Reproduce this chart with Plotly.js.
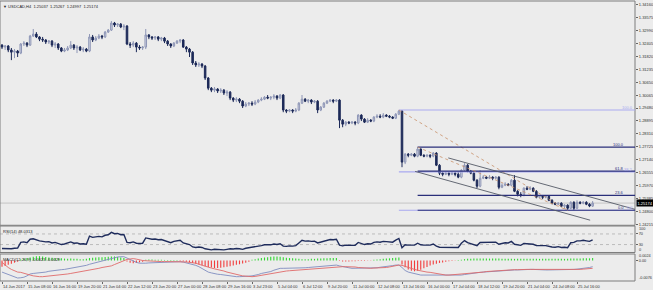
<!DOCTYPE html>
<html><head><meta charset="utf-8">
<script src="https://cdn.plot.ly/plotly-3.0.1.min.js"></script>
<style>html,body{margin:0;padding:0;background:#ececec;overflow:hidden}#chart{width:653px;height:290px}</style>
</head><body><div id="chart"></div>
<script>
const headerText = "USDCAD,H4  1.25037  1.25267  1.24997  1.25174";
const rsiLabel = "RSI(14) 48.0313";
const macdLabel = "MACD(12,26,9) -0.0023 -0.0029";
const timeLabels = ["14 Jun 2017","15 Jun 08:00","16 Jun 16:00","19 Jun 20:00","21 Jun 04:00","22 Jun 12:00","23 Jun 20:00","27 Jun 00:00","28 Jun 08:00","29 Jun 16:00","3 Jul 23:00","5 Jul 04:00","6 Jul 12:00","9 Jul 20:00","11 Jul 00:00","12 Jul 08:00","13 Jul 16:00","16 Jul 00:00","17 Jul 04:00","18 Jul 12:00","19 Jul 20:00","21 Jul 04:00","24 Jul 08:00","25 Jul 16:00"];
const labelBars = [0,8,16,24,32,40,48,56,64,72,80,88,96,104,112,120,128,136,144,152,160,168,176,184];
const priceTicks = [1.34160,1.33575,1.32990,1.32405,1.31820,1.31235,1.30650,1.30065,1.29480,1.28895,1.28310,1.27725,1.27140,1.26555,1.25970,1.25385,1.24800,1.24215];
const priceTickText = ["1.34160","1.33575","1.32990","1.32405","1.31820","1.31235","1.30650","1.30065","1.29480","1.28895","1.28310","1.27725","1.27140","1.26555","1.25970","1.25385","1.24800","1.24215"];

const openP = [1.3233,1.3224,1.3229,1.3211,1.3201,1.3206,1.3197,1.3238,1.3242,1.3233,
1.3274,1.3283,1.3270,1.3260,1.3256,1.3247,1.3251,1.3233,1.3238,1.3220,
1.3206,1.3211,1.3220,1.3233,1.3220,1.3224,1.3211,1.3215,1.3206,1.3270,
1.3256,1.3265,1.3274,1.3270,1.3292,1.3301,1.3333,1.3324,1.3328,1.3315,
1.3319,1.3238,1.3233,1.3242,1.3224,1.3220,1.3224,1.3279,1.3270,1.3265,
1.3270,1.3260,1.3265,1.3251,1.3238,1.3229,1.3242,1.3251,1.3256,1.3224,
1.3215,1.3201,1.3152,1.3143,1.3147,1.3138,1.3084,1.3038,1.3029,1.3034,
1.3025,1.3029,1.3016,1.3020,1.2993,1.2984,1.2988,1.2979,1.2957,1.2966,
1.2970,1.2966,1.2975,1.2984,1.2988,1.2997,1.2993,1.2997,1.3002,1.2993,
1.3007,1.2939,1.2934,1.2939,1.2934,1.2939,1.2970,1.2988,1.2979,1.2984,
1.2975,1.2979,1.2939,1.2952,1.2970,1.2979,1.2984,1.2979,1.2984,1.2893,
1.2875,1.2884,1.2880,1.2884,1.2880,1.2916,1.2898,1.2884,1.2893,1.2889,
1.2907,1.2911,1.2907,1.2916,1.2911,1.2907,1.2902,1.2920,1.2934,1.2703,
1.2739,1.2734,1.2739,1.2730,1.2762,1.2734,1.2730,1.2734,1.2730,1.2744,
1.2689,1.2653,1.2648,1.2653,1.2648,1.2653,1.2648,1.2635,1.2666,1.2689,
1.2662,1.2653,1.2621,1.2594,1.2630,1.2635,1.2630,1.2635,1.2630,1.2635,
1.2589,1.2598,1.2603,1.2598,1.2621,1.2571,1.2557,1.2553,1.2585,1.2580,
1.2585,1.2571,1.2544,1.2548,1.2544,1.2548,1.2530,1.2517,1.2512,1.2517,
1.2503,1.2508,1.2494,1.2521,1.2494,1.2521,1.2517,1.2521,1.2512,1.25037];
const highP = [1.3238,1.3233,1.3233,1.3220,1.3215,1.3211,1.3242,1.3251,1.3247,1.3279,
1.3306,1.3292,1.3274,1.3270,1.3260,1.3256,1.3256,1.3247,1.3242,1.3224,
1.3220,1.3229,1.3251,1.3238,1.3233,1.3229,1.3224,1.3220,1.3283,1.3279,
1.3274,1.3283,1.3279,1.3297,1.3306,1.3342,1.3338,1.3333,1.3333,1.3328,
1.3324,1.3247,1.3251,1.3247,1.3233,1.3229,1.3306,1.3283,1.3274,1.3274,
1.3274,1.3270,1.3270,1.3256,1.3242,1.3247,1.3256,1.3260,1.3260,1.3229,
1.3220,1.3206,1.3161,1.3156,1.3152,1.3143,1.3088,1.3043,1.3043,1.3038,
1.3038,1.3034,1.3029,1.3025,1.2997,1.2997,1.2993,1.2984,1.2975,1.2975,
1.2979,1.2984,1.2988,1.2997,1.3002,1.3007,1.3002,1.3011,1.3007,1.3011,
1.3011,1.2943,1.2943,1.2943,1.2948,1.2975,1.3007,1.2993,1.2988,1.2988,
1.2984,1.2984,1.2957,1.2975,1.2984,1.2988,1.2988,1.2988,1.2988,1.2898,
1.2889,1.2889,1.2889,1.2889,1.2920,1.2920,1.2902,1.2902,1.2898,1.2911,
1.2920,1.2920,1.2925,1.2920,1.2916,1.2911,1.2925,1.2939,1.2939,1.2744,
1.2744,1.2744,1.2744,1.2771,1.2766,1.2739,1.2739,1.2739,1.2748,1.2748,
1.2694,1.2657,1.2657,1.2657,1.2662,1.2657,1.2657,1.2671,1.2698,1.2694,
1.2666,1.2657,1.2626,1.2666,1.2644,1.2639,1.2644,1.2639,1.2639,1.2639,
1.2607,1.2612,1.2607,1.2626,1.2644,1.2576,1.2567,1.2589,1.2594,1.2594,
1.2589,1.2576,1.2553,1.2553,1.2553,1.2553,1.2535,1.2521,1.2521,1.2521,
1.2512,1.2512,1.2526,1.2526,1.2530,1.2526,1.2526,1.2526,1.2517,1.25267];
const lowP = [1.3215,1.3211,1.3201,1.3165,1.3174,1.3179,1.3192,1.3229,1.3224,1.3229,
1.3270,1.3265,1.3251,1.3247,1.3238,1.3238,1.3224,1.3220,1.3211,1.3201,
1.3201,1.3206,1.3215,1.3211,1.3197,1.3206,1.3201,1.3201,1.3201,1.3247,
1.3251,1.3260,1.3260,1.3265,1.3288,1.3297,1.3315,1.3315,1.3310,1.3301,
1.3233,1.3220,1.3224,1.3201,1.3211,1.3211,1.3215,1.3260,1.3256,1.3256,
1.3251,1.3251,1.3242,1.3229,1.3220,1.3224,1.3238,1.3242,1.3220,1.3201,
1.3179,1.3143,1.3134,1.3134,1.3129,1.3075,1.3029,1.3020,1.3020,1.3016,
1.3016,1.3007,1.3002,1.2984,1.2975,1.2975,1.2970,1.2948,1.2952,1.2957,
1.2957,1.2961,1.2970,1.2979,1.2984,1.2988,1.2984,1.2988,1.2984,1.2988,
1.2929,1.2925,1.2929,1.2925,1.2929,1.2934,1.2966,1.2975,1.2970,1.2966,
1.2970,1.2925,1.2934,1.2948,1.2966,1.2975,1.2970,1.2975,1.2857,1.2861,
1.2866,1.2875,1.2875,1.2870,1.2875,1.2889,1.2880,1.2880,1.2884,1.2884,
1.2902,1.2902,1.2902,1.2907,1.2902,1.2898,1.2898,1.2916,1.2680,1.2694,
1.2725,1.2730,1.2725,1.2725,1.2730,1.2725,1.2725,1.2721,1.2725,1.2685,
1.2644,1.2639,1.2644,1.2639,1.2644,1.2639,1.2630,1.2630,1.2662,1.2657,
1.2648,1.2616,1.2585,1.2589,1.2626,1.2626,1.2626,1.2621,1.2626,1.2580,
1.2585,1.2594,1.2594,1.2594,1.2567,1.2548,1.2544,1.2548,1.2576,1.2576,
1.2567,1.2539,1.2539,1.2535,1.2539,1.2526,1.2512,1.2508,1.2508,1.2499,
1.2494,1.2485,1.2490,1.2485,1.2490,1.2512,1.2512,1.2508,1.2499,1.24997];
const closeP = [1.3224,1.3229,1.3211,1.3201,1.3206,1.3197,1.3238,1.3242,1.3233,1.3274,
1.3283,1.3270,1.3260,1.3256,1.3247,1.3251,1.3233,1.3238,1.3220,1.3206,
1.3211,1.3220,1.3233,1.3220,1.3224,1.3211,1.3215,1.3206,1.3270,1.3256,
1.3265,1.3274,1.3270,1.3292,1.3301,1.3333,1.3324,1.3328,1.3315,1.3319,
1.3238,1.3233,1.3242,1.3224,1.3220,1.3224,1.3279,1.3270,1.3265,1.3270,
1.3260,1.3265,1.3251,1.3238,1.3229,1.3242,1.3251,1.3256,1.3224,1.3215,
1.3201,1.3152,1.3143,1.3147,1.3138,1.3084,1.3038,1.3029,1.3034,1.3025,
1.3029,1.3016,1.3020,1.2993,1.2984,1.2988,1.2979,1.2957,1.2966,1.2970,
1.2966,1.2975,1.2984,1.2988,1.2997,1.2993,1.2997,1.3002,1.2993,1.3007,
1.2939,1.2934,1.2939,1.2934,1.2939,1.2970,1.2988,1.2979,1.2984,1.2975,
1.2979,1.2939,1.2952,1.2970,1.2979,1.2984,1.2979,1.2984,1.2893,1.2875,
1.2884,1.2880,1.2884,1.2880,1.2916,1.2898,1.2884,1.2893,1.2889,1.2907,
1.2911,1.2907,1.2916,1.2911,1.2907,1.2902,1.2920,1.2934,1.2703,1.2739,
1.2734,1.2739,1.2730,1.2762,1.2734,1.2730,1.2734,1.2730,1.2744,1.2689,
1.2653,1.2648,1.2653,1.2648,1.2653,1.2648,1.2635,1.2666,1.2689,1.2662,
1.2653,1.2621,1.2594,1.2630,1.2635,1.2630,1.2635,1.2630,1.2635,1.2589,
1.2598,1.2603,1.2598,1.2621,1.2571,1.2557,1.2553,1.2585,1.2580,1.2585,
1.2571,1.2544,1.2548,1.2544,1.2548,1.2530,1.2517,1.2512,1.2517,1.2503,
1.2508,1.2494,1.2521,1.2494,1.2521,1.2517,1.2521,1.2512,1.2504,1.25174];

const rsiVals = [15,14,13,14,16,17,38,40,37,50,
52,47,44,42,40,41,36,38,33,30,
32,35,40,35,36,32,33,31,62,57,
59,61,59,65,67,76,71,72,67,68,
38,37,40,35,34,35,55,52,50,51,
48,49,44,40,37,42,45,46,36,34,
30,21,19,21,19,14,11,10,12,11,
12,10,12,14,13,15,14,12,16,18,
18,22,24,26,29,28,29,32,30,33,
24,23,25,24,26,36,46,43,44,42,
43,36,39,44,47,49,48,50,28,25,
28,27,28,27,38,34,30,33,32,38,
40,39,42,41,40,39,47,53,18,29,
28,29,28,35,29,28,29,28,32,24,
20,20,21,20,21,20,19,35,45,37,
34,29,26,38,38,37,38,37,39,31,
35,37,36,42,31,28,27,34,33,34,
31,26,27,26,26,23,21,20,22,19,
20,18,37,38,44,44,46,44,42,48.03];

const macdMain = [-0.0043,-0.0048,-0.0052,-0.0057,-0.0062,-0.0065,-0.0064,-0.0062,-0.0057,-0.0050,
-0.0048,-0.0047,-0.0046,-0.0045,-0.0043,-0.0040,-0.0038,-0.0037,-0.0036,-0.0034,
-0.0033,-0.0031,-0.0029,-0.0028,-0.0026,-0.0024,-0.0021,-0.0018,-0.0014,-0.0011,
-0.0008,-0.00055,-0.0003,0.0001,0.0004,0.0007,0.0011,0.0013,0.0014,0.0014,
0.0009,0.0003,-0.0003,-0.0007,-0.0010,-0.0011,-0.0010,-0.0009,-0.00085,-0.0007,
-0.0006,-0.00055,-0.0005,-0.00044,-0.00044,-0.0004,-0.0004,-0.00044,-0.0006,-0.0009,
-0.0012,-0.0014,-0.0018,-0.0023,-0.0030,-0.0037,-0.0043,-0.0046,-0.0049,-0.0051,
-0.0052,-0.0054,-0.0056,-0.0058,-0.0059,-0.0060,-0.0060,-0.0060,-0.0059,-0.0058,
-0.0057,-0.0055,-0.0052,-0.0048,-0.0046,-0.0043,-0.0041,-0.0036,-0.0033,-0.0029,
-0.0029,-0.0029,-0.0029,-0.0029,-0.0029,-0.0029,-0.0028,-0.0027,-0.0026,-0.0025,
-0.0024,-0.0023,-0.0023,-0.0021,-0.0019,-0.0018,-0.0017,-0.0017,-0.0020,-0.0023,
-0.0025,-0.0027,-0.0029,-0.0029,-0.0029,-0.0029,-0.0029,-0.0029,-0.0029,-0.0028,
-0.0027,-0.0025,-0.0024,-0.0023,-0.0021,-0.0019,-0.0017,-0.0017,-0.0026,-0.0037,
-0.0043,-0.0046,-0.0049,-0.0051,-0.0054,-0.0054,-0.0054,-0.0054,-0.0054,-0.0054,
-0.0055,-0.0056,-0.0056,-0.0056,-0.0055,-0.0055,-0.0054,-0.0054,-0.0052,-0.0050,
-0.0048,-0.0047,-0.0046,-0.0044,-0.0043,-0.0042,-0.0041,-0.0040,-0.0039,-0.0039,
-0.0038,-0.0037,-0.0036,-0.0036,-0.0035,-0.0035,-0.0034,-0.0033,-0.0033,-0.0033,
-0.0033,-0.0034,-0.0034,-0.0035,-0.0035,-0.0035,-0.0035,-0.0035,-0.0035,-0.0035,
-0.0035,-0.0034,-0.0033,-0.0033,-0.0032,-0.0031,-0.0030,-0.0028,-0.0026,-0.0023];
const macdSignal = [-0.0007,-0.0017,-0.0026,-0.0033,-0.0039,-0.0043,-0.0044,-0.0048,-0.0051,-0.0054,
-0.0057,-0.0059,-0.0060,-0.0060,-0.0059,-0.0058,-0.0057,-0.0056,-0.0054,-0.0053,
-0.0051,-0.0050,-0.0048,-0.0046,-0.0044,-0.0043,-0.0040,-0.0038,-0.0036,-0.0033,
-0.0031,-0.0029,-0.0026,-0.0024,-0.0022,-0.0020,-0.0015,-0.0010,-0.00055,-0.0001,
0.0004,0.00055,0.0007,0.0005,0.0002,0.0000,-0.0001,-0.0002,-0.0003,-0.0003,
-0.0003,-0.0004,-0.0004,-0.0004,-0.0004,-0.0005,-0.0005,-0.0005,-0.00055,-0.00055,
-0.0007,-0.0008,-0.0010,-0.0014,-0.0018,-0.0021,-0.0025,-0.0028,-0.0031,-0.0033,
-0.0035,-0.0039,-0.0043,-0.0046,-0.0050,-0.0053,-0.0055,-0.0057,-0.0058,-0.0060,
-0.0060,-0.0059,-0.0057,-0.0055,-0.0052,-0.0049,-0.0047,-0.0045,-0.0043,-0.0041,
-0.0040,-0.0039,-0.0038,-0.0037,-0.0036,-0.0036,-0.0035,-0.0033,-0.0032,-0.0031,
-0.0030,-0.0029,-0.0028,-0.0027,-0.0026,-0.0025,-0.0024,-0.0023,-0.0023,-0.0023,
-0.0023,-0.0023,-0.0023,-0.0024,-0.0026,-0.0027,-0.0028,-0.0028,-0.0029,-0.0028,
-0.0028,-0.0027,-0.0026,-0.0026,-0.0024,-0.0021,-0.0019,-0.0017,-0.0018,-0.0022,
-0.0027,-0.0030,-0.0033,-0.0036,-0.0039,-0.0041,-0.0043,-0.0044,-0.0046,-0.0048,
-0.0051,-0.0053,-0.0054,-0.0054,-0.0053,-0.0053,-0.0053,-0.0052,-0.0051,-0.0049,
-0.0048,-0.0046,-0.0045,-0.0044,-0.0043,-0.0041,-0.0040,-0.0039,-0.0038,-0.0037,
-0.0036,-0.0035,-0.0035,-0.0034,-0.0034,-0.0034,-0.0033,-0.0033,-0.0033,-0.0033,
-0.0033,-0.0033,-0.0034,-0.0034,-0.0034,-0.0035,-0.0035,-0.0035,-0.0035,-0.0035,
-0.0035,-0.0035,-0.0034,-0.0034,-0.0033,-0.0033,-0.0032,-0.0031,-0.0030,-0.0029];
const macdHist = [-0.0023,-0.0020,-0.0016,-0.0012,-0.0008,-0.0005,0.0004,0.0007,0.0009,0.0011,
0.0014,0.0016,0.0016,0.0015,0.0013,0.0011,0.0010,0.0009,0.0008,0.0008,
0.0007,0.0006,0.0007,0.0006,0.0006,0.0005,0.0005,0.0006,0.0009,0.0010,
0.0011,0.0012,0.0012,0.0013,0.0014,0.0015,0.0015,0.0013,0.0011,0.0009,
-0.0004,-0.0008,-0.0010,-0.0009,-0.0007,-0.0005,0.0003,0.0004,0.0004,0.0003,
0.0003,0.0003,0.0002,0.0002,0.0002,0.0002,0.0002,-0.0002,-0.0003,-0.0005,
-0.0007,-0.0009,-0.0012,-0.0015,-0.0018,-0.0021,-0.0024,-0.0026,-0.0028,-0.0028,
-0.0027,-0.0025,-0.0023,-0.0021,-0.0019,-0.0016,-0.0014,-0.0011,-0.0008,-0.0005,
0.0003,0.0005,0.0007,0.0009,0.0011,0.0012,0.0014,0.0015,0.0015,0.0014,
0.0012,0.0010,0.0009,0.0008,0.0007,0.0006,0.0005,0.0005,0.0005,0.0006,
0.0006,0.0007,0.0007,0.0008,0.0008,0.0009,0.0009,0.0009,-0.0002,-0.0004,
-0.0004,-0.0004,-0.0003,-0.0003,-0.0002,-0.0002,-0.0002,-0.0001,-0.0001,0.0003,
0.0004,0.0005,0.0006,0.0007,0.0008,0.0009,0.0010,0.0011,-0.0015,-0.0025,
-0.0033,-0.0038,-0.0040,-0.0038,-0.0034,-0.0029,-0.0024,-0.0019,-0.0015,-0.0012,
-0.0009,-0.0007,-0.0005,-0.0003,-0.0002,-0.0001,0.0002,0.0003,0.0005,0.0006,
0.0006,0.0007,0.0007,0.0007,0.0007,0.0007,0.0007,0.0007,0.0007,0.0007,
0.0006,0.0006,0.0006,0.0006,0.0006,0.0006,0.0006,0.0006,0.0006,0.0006,
0.0006,0.0006,0.0006,0.0006,0.0006,0.0006,0.0006,0.0006,0.0006,0.0006,
0.0006,0.0006,0.0007,0.0007,0.0007,0.0007,0.0008,0.0008,0.0008,0.0009];

// drawing objects (bar index, price)
const fibLavAnchor = [127, 1.2939, 181, 1.2485];
const fibLavLevels = [100, 38.2, 0];
const fibNavyAnchor = [133, 1.2771, 181, 1.2485];
const fibNavyLevels = [100, 61.8, 23.6, 0];
const channelUpper = [142.8, 1.2722, 202.6, 1.2489];
const channelLower = [132.2, 1.2661, 188.2, 1.2440];
const rsiLevels = [70, 30];

const bars = closeP.map((_, i) => i);
const xEnd = 202.56;
const lastClose = closeP[closeP.length - 1];

const FONT = 'Liberation Sans, Arial, sans-serif';
const traces = [
  {type:'candlestick', x:bars, open:openP, high:highP, low:lowP, close:closeP, xaxis:'x', yaxis:'y',
   increasing:{line:{color:'#8e96b6', width:1}, fillcolor:'#d3d7e4'},
   decreasing:{line:{color:'#1c2958', width:1}, fillcolor:'#1c2958'},
   whiskerwidth:0, hoverinfo:'skip'},
  {type:'scatter', mode:'lines', x:bars, y:rsiVals, xaxis:'x', yaxis:'y2',
   line:{color:'#1f2c5c', width:1.4}, hoverinfo:'skip'},
  {type:'bar', x:bars, y:macdHist, xaxis:'x', yaxis:'y3', width:0.35,
   marker:{color:macdHist.map(v => v >= 0 ? '#2fd62f' : '#f23c3c'), line:{width:0}}, hoverinfo:'skip'},
  {type:'scatter', mode:'lines', x:bars, y:macdMain, xaxis:'x', yaxis:'y3',
   line:{color:'#7f8cc0', width:0.9}, hoverinfo:'skip'},
  {type:'scatter', mode:'lines', x:bars, y:macdSignal, xaxis:'x', yaxis:'y3',
   line:{color:'#e06a6a', width:0.9}, hoverinfo:'skip'}
];

const shapes = [];
const annotations = [];
[[0.199,1],[0.1018,0.1964],[0,0.0964]].forEach(d => shapes.push({type:'rect', xref:'paper', yref:'paper', x0:0, x1:1, y0:d[0], y1:d[1], line:{color:'#7c7c7c', width:1}, fillcolor:'rgba(0,0,0,0)'}));
shapes.push({type:'line', xref:'paper', yref:'y', x0:0, x1:1, y0:lastClose, y1:lastClose, line:{color:'#c4c4c4', width:1}, layer:'below'});
function fib(anchor, levels, color, labelShift) {
  const [b1, hi, b2, lo] = anchor;
  levels.forEach(l => {
    const p = lo + (hi - lo) * l / 100;
    shapes.push({type:'line', xref:'x', yref:'y', x0:b1, x1:xEnd, y0:p, y1:p, line:{color:color, width:1.2}});
    annotations.push({xref:'paper', yref:'y', x:1, y:p, xanchor:'right', yanchor:'bottom', xshift:labelShift, yshift:-1, borderpad:0,
      text:l.toFixed(1), showarrow:false, font:{family:FONT, size:4, color:color}});
  });
  shapes.push({type:'line', xref:'x', yref:'y', x0:b1, x1:b2, y0:hi, y1:lo, line:{color:'#c8906a', width:0.8, dash:'dot'}});
}
fib(fibLavAnchor, fibLavLevels, '#a9a9f0', -1);
fib(fibNavyAnchor, fibNavyLevels, '#2a2f7a', -10);
[channelUpper, channelLower].forEach(c => shapes.push({type:'line', xref:'x', yref:'y', x0:c[0], y0:c[1], x1:c[2], y1:c[3], line:{color:'#555a66', width:0.9}}));
rsiLevels.forEach(v => shapes.push({type:'line', xref:'paper', yref:'y2', x0:0, x1:1, y0:v, y1:v, line:{color:'#9a9a9a', width:0.6, dash:'dot'}, layer:'below'}));

annotations.push({xref:'paper', yref:'paper', x:0, y:1, xanchor:'left', yanchor:'top', xshift:2, yshift:-2, borderpad:0, text:'\u25BC ' + headerText, showarrow:false, font:{family:FONT, size:4, color:'#222'}});
annotations.push({xref:'paper', yref:'paper', x:0, y:0.1964, xanchor:'left', yanchor:'top', xshift:2, yshift:-1.5, borderpad:0, text:rsiLabel, showarrow:false, font:{family:FONT, size:4, color:'#222'}});
annotations.push({xref:'paper', yref:'paper', x:0, y:0.0964, xanchor:'left', yanchor:'top', xshift:2, yshift:-1.5, borderpad:0, text:macdLabel, showarrow:false, font:{family:FONT, size:4, color:'#222'}});
labelBars.forEach((b, k) => annotations.push({xref:'x', yref:'paper', x:b, y:0, xanchor:'left', yanchor:'top', xshift:0, yshift:-1.5, borderpad:0, text:timeLabels[k], showarrow:false, font:{family:FONT, size:4, color:'#333'}}));
// end labels of the indicator windows (placed inside the window like the terminal does)
[['100','y2',100,-2.7],['0','y2',0,2.5],['0.0024','y3',0.0024,-2.3],['-0.0076','y3',-0.0076,3]].forEach(a =>
  annotations.push({xref:'paper', yref:a[1], x:1, y:a[2], xanchor:'left', yanchor:'middle', xshift:3, yshift:a[3], borderpad:0, text:a[0], showarrow:false, font:{family:FONT, size:3.8, color:'#333'}}));
annotations.push({xref:'paper', yref:'y', x:1, y:lastClose, xanchor:'left', yanchor:'middle', xshift:1, text:lastClose.toFixed(5), showarrow:false, bgcolor:'#000', borderpad:0.5, font:{family:FONT, size:4, color:'#fff'}});

const axisCommon = {showgrid:false, zeroline:false, showline:false, fixedrange:true, ticks:'outside', ticklen:2, tickcolor:'#666', tickfont:{family:FONT, size:4, color:'#333'}};
const layout = {
  width:653, height:290, margin:{l:0, r:18, t:1, b:9, pad:0},
  paper_bgcolor:'#ececec', plot_bgcolor:'#ececec', showlegend:false, dragmode:false,
  font:{family:FONT, size:4, color:'#333'},
  xaxis:Object.assign({}, axisCommon, {range:[-0.64, xEnd], anchor:'y3', tickvals:labelBars, showticklabels:false, rangeslider:{visible:false}}),
  yaxis:Object.assign({}, axisCommon, {domain:[0.199,1], range:[1.24169,1.34328], side:'right', anchor:'x', tickvals:priceTicks, ticktext:priceTickText}),
  yaxis2:Object.assign({}, axisCommon, {domain:[0.1018,0.1964], range:[0,100], side:'right', anchor:'x', tickvals:rsiLevels, ticktext:rsiLevels.map(String), tickfont:{family:FONT, size:3.8, color:'#333'}}),
  yaxis3:Object.assign({}, axisCommon, {domain:[0,0.0964], range:[-0.0076,0.0024], side:'right', anchor:'x', tickvals:[0], ticktext:['0.00'], tickfont:{family:FONT, size:3.8, color:'#333'}}),
  shapes:shapes, annotations:annotations
};
Plotly.newPlot('chart', traces, layout, {staticPlot:true, displayModeBar:false});
</script></body></html>
